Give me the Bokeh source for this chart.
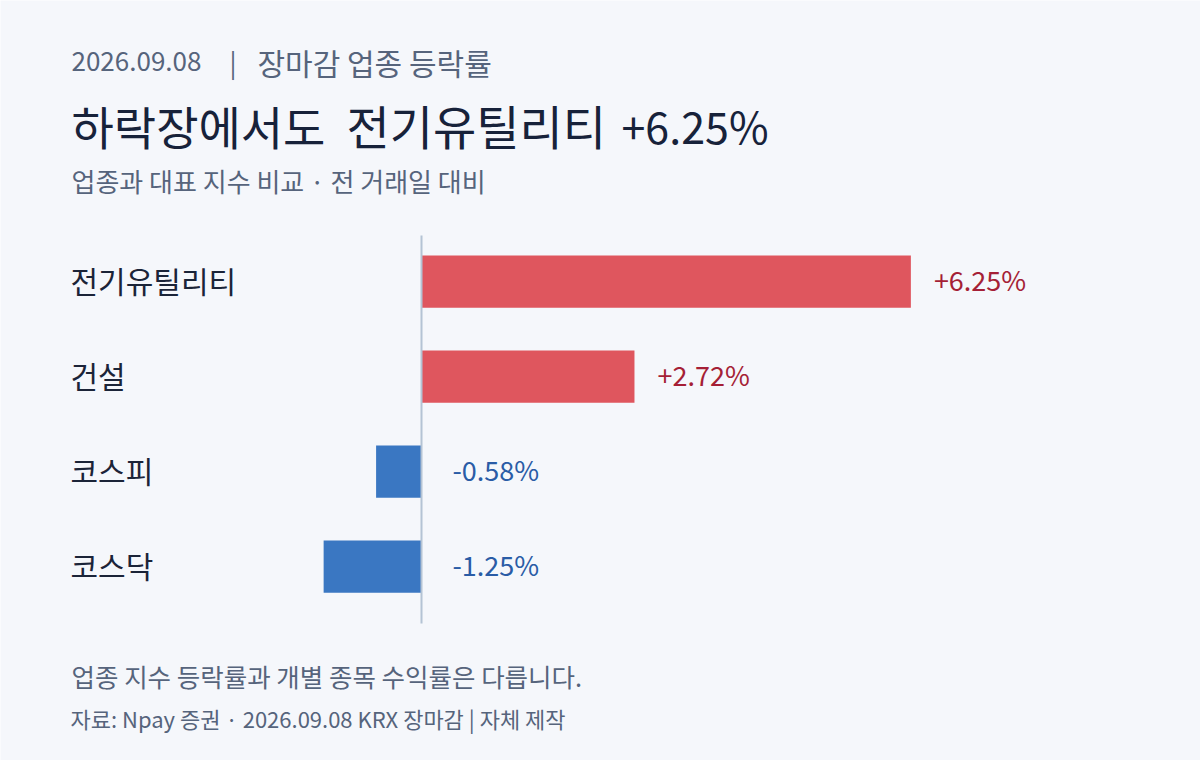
from bokeh.plotting import figure
from bokeh.models import Range1d, Label, ColumnDataSource
from bokeh.core.properties import value
from bokeh.embed import file_html
from bokeh.resources import INLINE

# data
categories = ["전기유틸리티", "건설", "코스피", "코스닥"]
changes = [6.25, 2.72, -0.58, -1.25]
value_labels = ["+6.25%", "+2.72%", "-0.58%", "-1.25%"]

FONT = "Noto Sans CJK KR"
BG = "#f5f7fb"
W, H = 1200, 760

# scales: zero line at x=421, ~78.3px per percent; rows 95px apart, first at y=281
px_per_unit = 78.3
x0 = 421
row_px = 95
row0 = 281

p = figure(width=W, height=H, output_backend="svg", toolbar_location=None,
           x_range=Range1d(-x0 / px_per_unit, (W - x0) / px_per_unit),
           y_range=Range1d((H - row0) / row_px, -row0 / row_px),
           min_border=0)
p.axis.visible = False
p.grid.visible = False
p.outline_line_color = None
p.background_fill_color = BG
p.border_fill_color = BG

rows = list(range(len(categories)))
pos_color, neg_color = "#df565e", "#3a77c2"
pos_text, neg_text = "#a51f36", "#2a5ca6"

src = ColumnDataSource(dict(
    y=rows,
    cat=categories,
    val=changes,
    lab=value_labels,
    bar_color=[pos_color if v >= 0 else neg_color for v in changes],
    text_color=[pos_text if v >= 0 else neg_text for v in changes],
    lab_x=[v if v >= 0 else 0 for v in changes],
    lab_off=[23 if v >= 0 else 31 for v in changes],
))

p.hbar(y="y", left=0, right="val", height=0.55, source=src,
       fill_color="bar_color", line_color=None)

# zero line
p.segment(x0=[0], y0=[-0.485], x1=[0], y1=[3.6], line_color="#b4c3d4", line_width=2)

p.text(x=(70 - x0) / px_per_unit, y="y", text="cat", source=src, y_offset=-2,
       text_font=value(FONT), text_font_size="30px", text_color="#1b2438",
       text_baseline="middle", text_align="left")

p.text(x="lab_x", y="y", text="lab", source=src, x_offset="lab_off", y_offset=-2,
       text_font=value(FONT), text_font_size="27px", text_color="text_color",
       text_baseline="middle", text_align="left")


def add_label(text, x, y, size, color):
    p.add_layout(Label(x=x, y=H - y, x_units="screen", y_units="screen", text=text,
                       text_font=FONT, text_font_size=size, text_color=color,
                       text_baseline="middle", text_align="left"))


add_label("2026.09.08", 71, 61, "26px", "#56647c")
add_label("|", 229, 61, "26px", "#56647c")
add_label("장마감 업종 등락률", 257, 61, "30px", "#56647c")
add_label("하락장에서도", 71, 124, "46px", "#17223a")
add_label("전기유틸리티", 346, 124, "47px", "#17223a")
add_label("+6.25%", 621, 124, "43px", "#17223a")
add_label("업종과 대표 지수 비교 · 전 거래일 대비", 71, 180, "26px", "#56647c")
add_label("업종 지수 등락률과 개별 종목 수익률은 다릅니다.", 71, 675, "25.5px", "#56647c")
add_label("자료: Npay 증권 · 2026.09.08 KRX 장마감 | 자체 제작", 70, 717, "22px", "#56647c")

html = file_html(p, INLINE)
html = html.replace("<body>", '<body style="background:%s;margin:0;overflow:hidden">' % BG, 1)
open("out.html", "w").write(html)
